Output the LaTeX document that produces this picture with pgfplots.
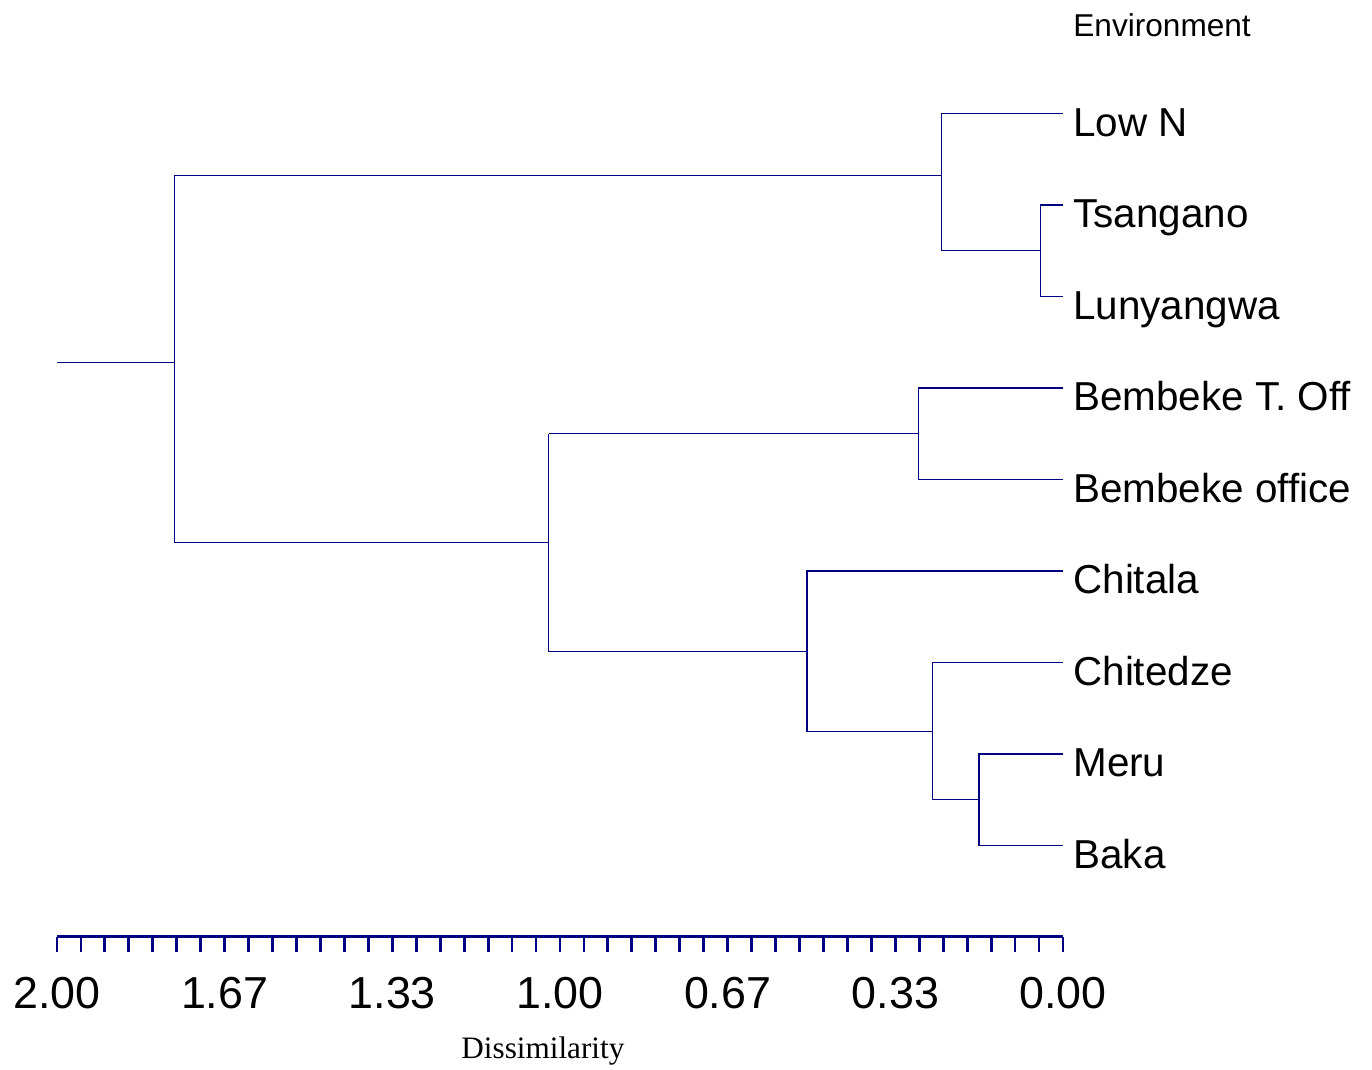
\documentclass[border=0pt]{standalone}
\usepackage{fontspec}
\setmainfont{Liberation Sans}
\newfontfamily\seriffont{Liberation Serif}
\usepackage{pgfplots}
\pgfplotsset{compat=1.18}
\definecolor{dendro}{RGB}{0,0,128}

\begin{document}
\begin{tikzpicture}
% canvas (1 px = 0.5 pt), axis box lower-left corner at the origin
\path[use as bounding box] (-28.5pt,-66.5pt) rectangle (657.5pt,468.5pt);
\begin{axis}[
  at={(0,0)}, anchor=south west,
  scale only axis,
  width=503pt, height=457.5pt,
  xmin=0, xmax=2, x dir=reverse,
  ymin=-10, ymax=0,
  axis x line*=bottom,
  axis y line=none,
  clip=false,
  xtick={0,0.33333,0.66667,1,1.33333,1.66667,2},
  xticklabels={0.00,0.33,0.67,1.00,1.33,1.67,2.00},
  minor xtick={0.047619,0.095238,0.142857,0.190476,0.238095,0.285714,
    0.380952,0.428571,0.476190,0.523810,0.571429,0.619048,
    0.714286,0.761905,0.809524,0.857143,0.904762,0.952381,
    1.047619,1.095238,1.142857,1.190476,1.238095,1.285714,
    1.380952,1.428571,1.476190,1.523810,1.571429,1.619048,
    1.714286,1.761905,1.809524,1.857143,1.904762,1.952381},
  tick align=outside,
  major tick length=7.5pt,
  minor tick length=7.5pt,
  major tick style={dendro, line width=1.4pt},
  minor tick style={dendro, line width=1.4pt},
  x axis line style={dendro, line width=1.5pt},
  xticklabel style={font=\fontsize{22.4pt}{26pt}\selectfont, anchor=base, yshift=-28.5pt},
  /pgf/number format/assume math mode=true,
  dend/.style={dendro, line width=0.55pt},
]
% leaves to merge heights (dissimilarity, leaf position)
\addplot[dend] coordinates {(0,-1) (0.241,-1) (0.241,-2.5)};
\addplot[dend] coordinates {(0,-2) (0.044,-2) (0.044,-3) (0,-3)};
\addplot[dend] coordinates {(0.044,-2.5) (0.241,-2.5)};
\addplot[dend] coordinates {(0.241,-1.68) (1.767,-1.68)};
\addplot[dend] coordinates {(1.767,-1.68) (1.767,-5.69) (1.022,-5.69)};
\addplot[dend] coordinates {(2,-3.72) (1.767,-3.72)};
\addplot[dend] coordinates {(0,-4) (0.288,-4) (0.288,-5) (0,-5)};
\addplot[dend] coordinates {(0.288,-4.5) (1.022,-4.5)};
\addplot[dend] coordinates {(1.022,-4.5) (1.022,-6.875) (0.509,-6.875)};
\addplot[dend] coordinates {(0,-6) (0.509,-6) (0.509,-7.75) (0.260,-7.75)};
\addplot[dend] coordinates {(0,-7) (0.260,-7) (0.260,-8.5) (0.167,-8.5)};
\addplot[dend] coordinates {(0,-8) (0.167,-8) (0.167,-9) (0,-9)};

% leaf labels
\begin{scope}[every node/.style={anchor=base west, inner sep=0pt, xshift=5pt, yshift=-11.5pt, font=\fontsize{20.2pt}{24pt}\selectfont}]
\node at (axis cs:0,-1) {Low N};
\node at (axis cs:0,-2) {Tsangano};
\node at (axis cs:0,-3) {Lunyangwa};
\node at (axis cs:0,-4) {Bembeke T. Off};
\node at (axis cs:0,-5) {Bembeke office};
\node at (axis cs:0,-6) {Chitala};
\node at (axis cs:0,-7) {Chitedze};
\node at (axis cs:0,-8) {Meru};
\node at (axis cs:0,-9) {Baka};
\end{scope}
\node[anchor=base west, inner sep=0pt, xshift=5pt, font=\fontsize{15.8pt}{19pt}\selectfont] at (axis cs:0,-0.158) {Environment};
\node[anchor=base, inner sep=0pt, font=\seriffont\fontsize{15.6pt}{18pt}\selectfont] at (axis cs:1.034,-11.33) {Dissimilarity};
\end{axis}
\end{tikzpicture}
\end{document}
